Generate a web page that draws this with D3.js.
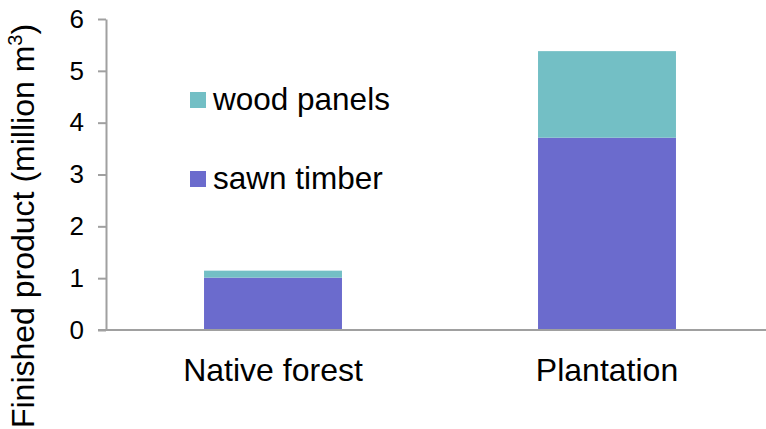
<!DOCTYPE html>
<html><head><meta charset="utf-8">
<script src="https://cdn.jsdelivr.net/npm/d3@7"></script>
<style>body{margin:0;background:#fff}svg{display:block;font-family:Arial,"Liberation Sans",sans-serif}</style>
</head><body>
<svg id="c" width="766" height="429"></svg>
<script>
const categories = ["Native forest", "Plantation"];
const sawnTimber = [1.01, 3.71];
const woodPanels = [0.135, 1.67];
const yTicks = [0, 1, 2, 3, 4, 5, 6];
const seriesNames = ["sawn timber", "wood panels"];
const colors = ["#6b6bcd", "#73bfc5"];

const svg = d3.select("#c");
const x0 = 106, x1 = 774, yBottom = 330, yTop = 19;
const x = d3.scaleBand().domain(categories).range([x0, x1]).paddingInner(0.587).paddingOuter(0.2935);
const y = d3.scaleLinear().domain([0, 6]).range([yBottom, yTop]);

const rows = categories.map((c, i) => ({cat: c, sawn: sawnTimber[i], panels: woodPanels[i]}));
const stack = d3.stack().keys(["sawn", "panels"])(rows);

svg.append("g").selectAll("g").data(stack).join("g")
  .attr("fill", (d, i) => colors[i])
  .selectAll("rect").data(d => d).join("rect")
  .attr("x", d => x(d.data.cat))
  .attr("width", x.bandwidth())
  .attr("y", d => y(d[1]))
  .attr("height", d => y(d[0]) - y(d[1]));

// y axis
const yAxis = svg.append("g").attr("transform", `translate(${x0},0)`)
  .call(d3.axisLeft(y).tickValues(yTicks).tickFormat(d3.format("d")).tickSize(8).tickPadding(14).tickSizeOuter(0));
yAxis.select(".domain").attr("stroke", "#a0a0a0").attr("stroke-width", 2);
yAxis.selectAll(".tick line").attr("stroke", "#a0a0a0").attr("stroke-width", 2);
yAxis.selectAll(".tick text").attr("font-size", 26).attr("fill", "#000").attr("font-family", "Arial, 'Liberation Sans', sans-serif");

// x axis baseline
const xAxis = svg.append("g").attr("transform", `translate(0,${yBottom})`)
  .call(d3.axisBottom(x).tickSize(0).tickPadding(28));
xAxis.select(".domain").remove();
xAxis.append("line").attr("x1", x0 - 8).attr("x2", 766).attr("y1", 0).attr("y2", 0)
  .attr("stroke", "#a0a0a0").attr("stroke-width", 2);
xAxis.selectAll(".tick text").attr("font-size", 32).attr("fill", "#000").attr("dy", "0.71em")
  .attr("font-family", "Arial, 'Liberation Sans', sans-serif");

// y title
const t = svg.append("text").attr("transform", `translate(34,${(yTop + 429) / 2 + 2}) rotate(-90)`)
  .attr("text-anchor", "middle").attr("font-size", 32).attr("fill", "#000");
t.append("tspan").text("Finished product (million m");
t.append("tspan").text("3").attr("font-size", 20).attr("dy", -12);
t.append("tspan").text(")").attr("dy", 12);

// legend
const legend = [
  {name: seriesNames[1], color: colors[1], y: 100},
  {name: seriesNames[0], color: colors[0], y: 179}
];
const lg = svg.append("g").selectAll("g").data(legend).join("g");
lg.append("rect").attr("x", 190).attr("y", d => d.y - 8).attr("width", 16).attr("height", 16).attr("fill", d => d.color);
lg.append("text").attr("x", 213).attr("y", d => d.y + 10).attr("font-size", 31.5).attr("fill", "#000").text(d => d.name);
</script>
</body></html>
